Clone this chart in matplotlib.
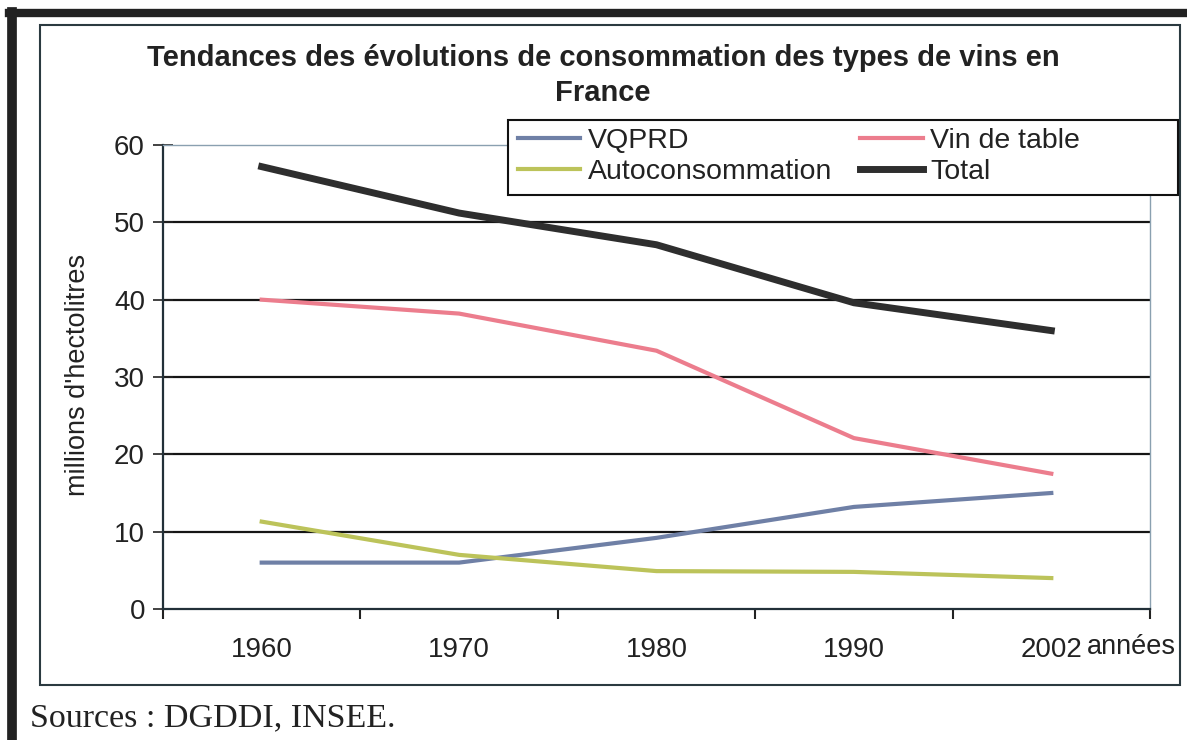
import matplotlib.pyplot as plt
from matplotlib.lines import Line2D
from matplotlib.patches import Rectangle

years = ['1960', '1970', '1980', '1990', '2002']
vqprd = [6.0, 6.0, 9.2, 13.2, 15.0]
vin_de_table = [40.0, 38.2, 33.4, 22.1, 17.5]
autoconsommation = [11.3, 7.0, 4.9, 4.8, 4.0]
total = [57.2, 51.2, 47.1, 39.6, 36.0]

plt.rcParams['font.family'] = ['Liberation Sans', 'DejaVu Sans']

W, H = 1187, 740
fig = plt.figure(figsize=(W / 100, H / 100), dpi=100)

def fx(px):
    return px / W

def fy(py):
    return 1 - py / H

# frame around the whole picture
fig.add_artist(Line2D([fx(12), fx(12)], [fy(12), 0], color='#222222', lw=7))
fig.add_artist(Line2D([fx(9), 1], [fy(13), fy(13)], color='#222222', lw=6))
fig.add_artist(Rectangle((fx(40), fy(685)), fx(1180) - fx(40), fy(25) - fy(685),
                         transform=fig.transFigure, fill=False,
                         edgecolor='#2b3a40', lw=1.5))

ax = fig.add_axes([fx(163), fy(609), fx(1150) - fx(163), fy(145) - fy(609)])

x = list(range(len(years)))
l1, = ax.plot(x, vqprd, color='#6f80a6', lw=3, label='VQPRD')
l2, = ax.plot(x, vin_de_table, color='#ec7d8d', lw=3, label='Vin de table')
l3, = ax.plot(x, autoconsommation, color='#bcc35a', lw=3, label='Autoconsommation')
l4, = ax.plot(x, total, color='#2e2e2e', lw=5, label='Total')

ax.set_xlim(-0.5, len(years) - 0.5)
ax.set_ylim(0, 60)
ax.set_yticks(range(0, 61, 10))
ax.set_xticks(x)
ax.set_xticklabels(years)
ax.set_xticks([i - 0.5 for i in range(len(years) + 1)], minor=True)

for v in range(10, 60, 10):
    ax.axhline(v, color='#151515', lw=1.6, zorder=0)

ax.tick_params(axis='y', direction='inout', length=14, width=1.2, labelsize=20, pad=6, colors='#222222')
ax.tick_params(axis='x', which='major', length=0, labelsize=20, pad=20, colors='#222222')
ax.tick_params(axis='x', which='minor', direction='out', length=7, width=1.5, color='#222222')

for s in ['left', 'bottom']:
    ax.spines[s].set_color('#223038')
    ax.spines[s].set_linewidth(1.6)
for s in ['top', 'right']:
    ax.spines[s].set_color('#8aa0b0')
    ax.spines[s].set_linewidth(1.0)

fig.text(fx(78), fy(375), "millions d'hectolitres", rotation=90, ha='center', va='center',
         fontsize=19.5, color='#222222')

fig.text(fx(603), fy(58), 'Tendances des évolutions de consommation des types de vins en',
         ha='center', va='center', fontsize=21, fontweight='bold', color='#222222')
fig.text(fx(603), fy(93), 'France', ha='center', va='center',
         fontsize=21, fontweight='bold', color='#222222')

fig.text(fx(1087), fy(647), 'années', ha='left', va='center', fontsize=19.5, color='#222222')

fig.text(fx(30), fy(718), 'Sources : DGDDI, INSEE.', ha='left', va='center',
         fontsize=24.5, family=['Liberation Serif', 'DejaVu Serif'], color='#222222')

# legend, filled row by row like the original
leg = fig.legend([l1, l3, l2, l4], ['VQPRD', 'Autoconsommation', 'Vin de table', 'Total'],
                 loc='upper left', ncol=2, bbox_to_anchor=(fx(512), fy(122)),
                 fontsize=20.5, frameon=False, handlelength=2.2, handletextpad=0.25,
                 borderpad=0.2, labelspacing=0.2, columnspacing=1.0, borderaxespad=0)
for t in leg.get_texts():
    t.set_color('#222222')
fig.add_artist(Rectangle((fx(508), fy(195)), fx(1178) - fx(508), fy(120) - fy(195),
                         transform=fig.transFigure, facecolor='white',
                         edgecolor='#111111', lw=1.5, zorder=2))
leg.set_zorder(3)

fig.savefig('out.png', dpi=100, facecolor='white')
